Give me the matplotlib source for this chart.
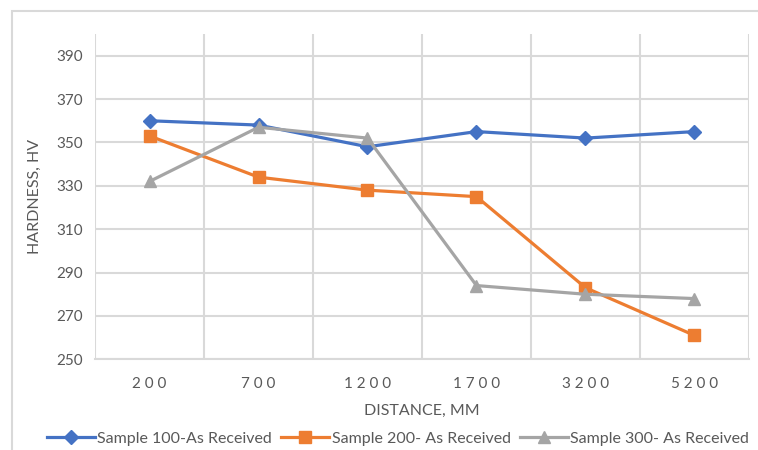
import numpy as np
import matplotlib.pyplot as plt
from matplotlib.patches import Rectangle

# hardness profile along the pipe, three samples as received
distance = ["200", "700", "1200", "1700", "3200", "5200"]
sample_100 = [360, 358, 348, 355, 352, 355]
sample_200 = [353, 334, 328, 325, 283, 261]
sample_300 = [332, 357, 352, 284, 280, 278]

TXT = "#595959"
GRID = "#D9D9D9"
FONT = ["Lato", "DejaVu Sans"]

plt.rcParams["font.family"] = FONT

fig = plt.figure(figsize=(7.58, 4.5), dpi=100)
# chart frame, cut off at right and bottom
fig.patches.append(Rectangle((12 / 758, -0.1), 1.2, 1 - 11 / 450 + 0.1,
                             transform=fig.transFigure, fill=False,
                             edgecolor=GRID, lw=1.5))

ax = fig.add_axes([95 / 758, 1 - 359.3 / 450, (749 - 95) / 758, (359.3 - 34) / 450])
x = np.arange(len(distance))

ax.plot(x, sample_100, color="#4472C4", lw=2.3, marker="D", ms=7,
        label="Sample 100-As Received", zorder=3)
ax.plot(x, sample_200, color="#ED7D31", lw=2.3, marker="s", ms=9,
        label="Sample 200- As Received", zorder=3)
ax.plot(x, sample_300, color="#A5A5A5", lw=2.3, marker="^", ms=9,
        label="Sample 300- As Received", zorder=3)

ax.set_xlim(-0.5, len(distance) - 0.5)
ax.set_ylim(250, 400)
ax.set_yticks(np.arange(250, 400, 20))
ax.set_xticks(x, [" ".join(d) for d in distance])
ax.set_xticks(np.arange(-0.5, len(distance), 1), minor=True)

ax.grid(axis="y", which="major", color=GRID, lw=1.5)
ax.grid(axis="x", which="minor", color=GRID, lw=1.5)
ax.set_axisbelow(True)
for side in ["top", "right", "left"]:
    ax.spines[side].set_visible(False)
ax.spines["bottom"].set_color(GRID)
ax.spines["bottom"].set_linewidth(1.5)
ax.tick_params(which="both", length=0, colors=TXT, labelsize=11)
ax.tick_params(axis="x", pad=13)
ax.tick_params(axis="y", pad=9)

ax.set_xlabel("DISTANCE, MM", color=TXT, fontsize=11.5, labelpad=9)
ax.set_ylabel("HARDNESS, HV", color=TXT, fontsize=11.5, labelpad=10)

fig.legend(loc="lower center", bbox_to_anchor=(0.525, -0.022), ncol=3,
           frameon=False, fontsize=11.5, handlelength=3.0, handletextpad=0.15,
           columnspacing=0.6, labelcolor=TXT)

fig.savefig("out.png", dpi=100)
